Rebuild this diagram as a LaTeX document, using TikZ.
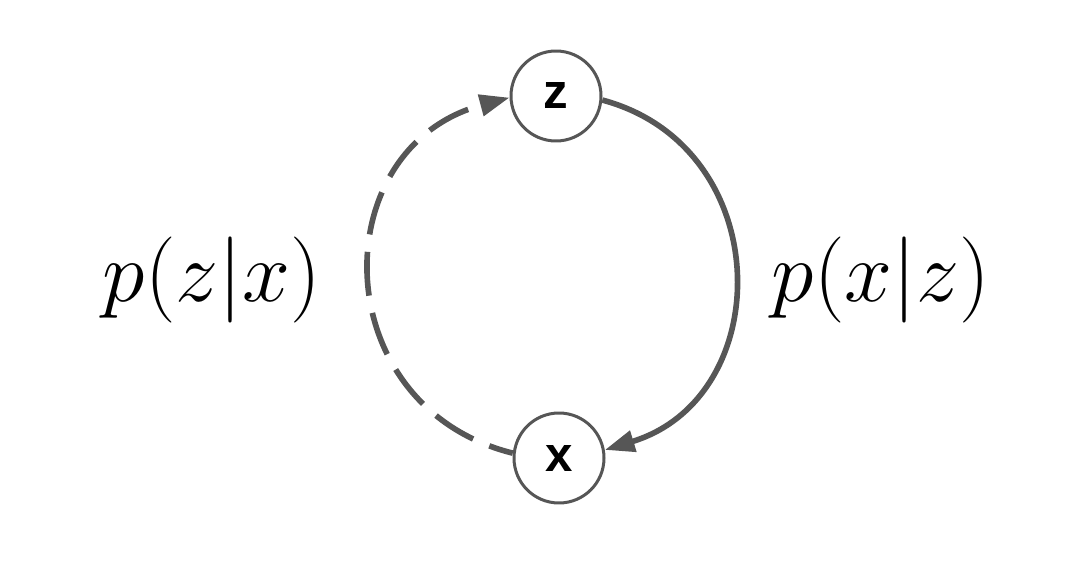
\RequirePackage{fix-cm}
\documentclass[tikz,border=0pt]{standalone}
\usepackage{fontspec}
\usepackage{tikz}
\usetikzlibrary{arrows.meta}
\newfontfamily\nodefont{Liberation Sans}
\definecolor{edgegray}{HTML}{565656}

\begin{document}
\begin{tikzpicture}[vnode/.style={draw=edgegray,line width=1.7pt,circle,minimum size=1.8cm,inner sep=0pt,font=\nodefont\bfseries\fontsize{28}{32}\selectfont},
    plabel/.style={font=\fontsize{49}{56}\selectfont},
    arc/.style={draw=edgegray,line width=3.2pt,-{Triangle[length=17pt,width=12pt]}}]
    \useasboundingbox (0,0) rectangle (21.56,11.22);
    \node[vnode] (z) at (11.12, 9.30) {z};
    \node[vnode] (x) at (11.18, 2.06) {x};
    \node[plabel] (pzx) at (4.24, 5.62) {$p(z|x)$};
    \node[plabel] (pxz) at (17.62, 5.62) {$p(x|z)$};

    \draw[arc] (z.-5) to[out=-15, in=17, looseness=1.32] (x.10) ;
    \draw[arc, dash pattern=on 25pt off 10pt, dash phase=11pt] (x.174) to[out=166, in=195, looseness=1.39] (z.182) ;
\end{tikzpicture}
\end{document}
